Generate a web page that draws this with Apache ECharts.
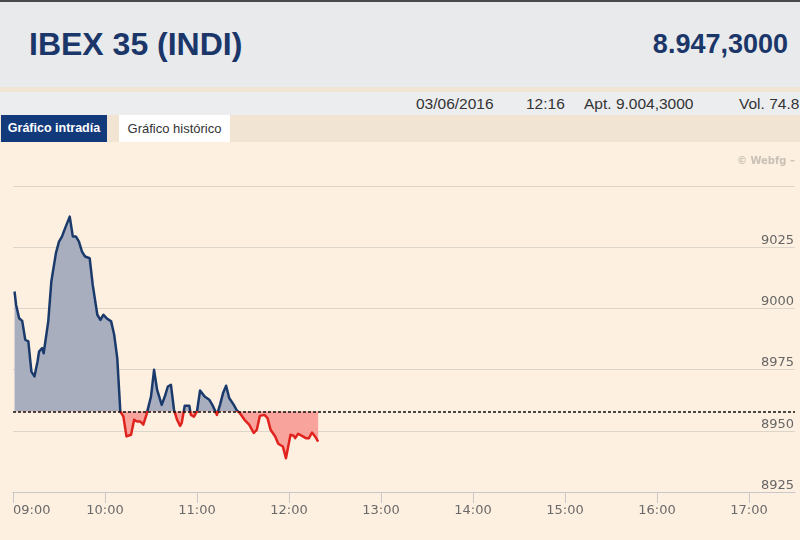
<!DOCTYPE html>
<html><head><meta charset="utf-8">
<script src="https://cdn.jsdelivr.net/npm/echarts@6/dist/echarts.min.js"></script>
<style>
body{margin:0;width:800px;height:540px;overflow:hidden;background:#FDF0E0;font-family:"Liberation Sans",Arial,sans-serif;position:relative}
.abs{position:absolute}
#topline{left:0;top:0;width:800px;height:2px;background:#4a4a4a}
#hdr{left:0;top:2px;width:800px;height:85px;background:#E9EAEC}
#title{left:29px;top:25px;font-size:32px;font-weight:bold;color:#1B3668;white-space:nowrap;line-height:38px}
#last{right:12px;top:26px;font-size:27px;font-weight:bold;color:#1B3668;white-space:nowrap;line-height:36px}
#strip{left:0;top:87px;width:800px;height:5px;background:#F0E4D4}
#info{left:0;top:92px;width:800px;height:23px;background:#ECEDEF;font-size:15.5px;color:#333;line-height:23px}
#info span{position:absolute;top:0;white-space:nowrap}
#tabs{left:0;top:115px;width:800px;height:27px;background:#F2E4D2}
#tab1{left:1px;top:0;width:106px;height:27px;background:#12397A;color:#fff;font-weight:bold;font-size:12.5px;line-height:27px;text-align:center}
#tab2{left:119px;top:0;width:111px;height:27px;background:#fff;color:#333;font-size:13px;line-height:27px;text-align:center}
#chart{left:0;top:142px;width:800px;height:398px}
</style></head>
<body>
<div class="abs" id="topline"></div>
<div class="abs" id="hdr"></div>
<div class="abs" id="title">IBEX 35 (INDI)</div>
<div class="abs" id="last">8.947,3000</div>
<div class="abs" id="strip"></div>
<div class="abs" id="info"><span style="left:416px">03/06/2016</span><span style="left:526px">12:16</span><span style="left:584px">Apt. 9.004,3000</span><span style="left:739px">Vol. 74.8</span></div>
<div class="abs" id="tabs"><div class="abs" id="tab1">Gráfico intradía</div><div class="abs" id="tab2">Gráfico histórico</div></div>
<div class="abs" id="chart"></div>
<script>
var times = ["09:01","09:02","09:04","09:06","09:08","09:10","09:12","09:14","09:16","09:17","09:19","09:20","09:23","09:25","09:28","09:30","09:32","09:34","09:37","09:39","09:41","09:43","09:45","09:47","09:50","09:52","09:55","09:57","09:59","10:01","10:04","10:06","10:08","10:10","10:12","10:14","10:17","10:19","10:21","10:23","10:25","10:27","10:30","10:32","10:34","10:37","10:39","10:41","10:43","10:45","10:47","10:49","10:50","10:52","10:55","10:56","10:58","11:00","11:02","11:05","11:08","11:10","11:13","11:15","11:17","11:19","11:21","11:24","11:26","11:28","11:31","11:34","11:37","11:39","11:41","11:44","11:46","11:48","11:51","11:53","11:56","11:58","12:01","12:03","12:04","12:06","12:09","12:11","12:13","12:15","12:17","12:19"];
var prices = [9006.9,9001.5,8996.0,8994.9,8987.2,8986.5,8974.2,8972.2,8978.3,8982.4,8983.8,8981.7,8994.7,9011.0,9022.6,9027.3,9029.4,9032.8,9037.5,9029.4,9029.4,9027.3,9023.2,9021.2,9020.5,9009.6,8997.4,8995.3,8997.4,8996.0,8994.7,8989.2,8979.7,8957.9,8955.8,8947.7,8948.4,8954.5,8953.8,8953.8,8952.5,8956.5,8964.0,8974.9,8966.7,8960.6,8964.0,8968.1,8968.8,8958.6,8954.5,8952.0,8953.1,8960.2,8960.2,8956.5,8955.8,8957.9,8966.5,8964.0,8962.7,8960.6,8956.5,8960.6,8965.4,8968.4,8963.4,8960.6,8958.3,8957.2,8954.5,8952.5,8949.1,8950.4,8956.1,8956.5,8955.2,8950.4,8947.7,8944.7,8943.6,8938.8,8948.4,8948.0,8947.0,8948.8,8947.7,8947.0,8947.0,8949.3,8947.7,8945.6];
var refLevel = 8957.9;
var xTickLabels = ["09:00","10:00","11:00","12:00","13:00","14:00","15:00","16:00","17:00"];
var yTicks = [8925, 8950, 8975, 9000, 9025, 9050];

function toMin(s){var p=s.split(':');return (+p[0])*60+(+p[1]);}
function toLabel(m){var h=Math.floor(m/60),mm=m%60;return (h<10?'0':'')+h+':'+(mm<10?'0':'')+mm;}
var seriesData = times.map(function(t,i){return [toMin(t), prices[i]];});
var xTickValues = xTickLabels.map(toMin);

var chart = echarts.init(document.getElementById('chart'));
chart.setOption({
  backgroundColor: '#FDF0E0',
  animation: false,
  grid: {left: 13, right: 5, top: 44, bottom: 48},
  graphic: [{type:'text', right: 5, top: 14, style:{text:'© Webfg –', fill:'#c9c1b6', font:'bold 10px "DejaVu Sans"'}}],
  xAxis: {
    type: 'value', min: 540, max: 1050, interval: 60,
    axisLine: {show: true, lineStyle: {color: '#c8c8c8', width: 1}},
    axisTick: {show: true, length: 11, lineStyle: {color: '#c8c8c8'}, customValues: xTickValues},
    axisLabel: {margin: 12, color: '#6a6a6a', fontFamily: 'DejaVu Sans', fontSize: 13,
      formatter: function(v){return toLabel(v);}, customValues: xTickValues, alignMinLabel: 'left'},
    splitLine: {show: false}
  },
  yAxis: {
    type: 'value', position: 'right', min: yTicks[0], max: yTicks[yTicks.length-1], interval: 25,
    axisLine: {show: false}, axisTick: {show: false},
    axisLabel: {inside: true, margin: 1, verticalAlign: 'bottom', color: '#666', fontFamily: 'DejaVu Sans', fontSize: 13,
      formatter: function(v){return v === yTicks[yTicks.length-1] ? '' : String(v);}},
    splitLine: {show: true, lineStyle: {color: '#DCD5CB', width: 1}}
  },
  visualMap: [
    {show: false, type: 'piecewise', seriesIndex: 0, dimension: 1,
      pieces: [{gte: 8800, lt: refLevel, color: '#F8A49D'}, {gte: refLevel, lte: 9200, color: '#A8AEBE'}]},
    {show: false, type: 'piecewise', seriesIndex: 1, dimension: 1,
      pieces: [{gte: 8800, lt: refLevel, color: '#E0231E'}, {gte: refLevel, lte: 9200, color: '#1B3A6C'}]}
  ],
  series: [
    {type: 'line', data: seriesData, showSymbol: false, silent: true,
      lineStyle: {width: 0}, areaStyle: {origin: refLevel, opacity: 1}, z: 1},
    {type: 'line', data: seriesData, showSymbol: false,
      lineStyle: {width: 2.5, join: 'round'}, z: 3,
      markLine: {silent: true, symbol: ['none','none'], label: {show: false},
        lineStyle: {color: '#111', type: [3,2], width: 1.5},
        data: [{yAxis: refLevel}]}}
  ]
});
</script>
</body></html>
